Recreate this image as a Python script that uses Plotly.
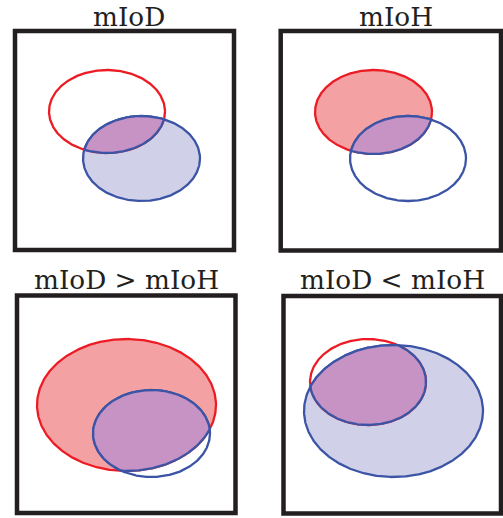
import numpy as np
import plotly.graph_objects as go

# ---- data (pixel-space geometry) ----
titles = ["mIoD", "mIoH", "mIoD > mIoH", "mIoD < mIoH"]
title_x = [129, 396, 126.5, 392]
title_y = [16.8, 16.8, 280, 280]

# panel frames: x0, x1, y0, y1
frame_x0 = [15, 280.7, 17, 283.5]
frame_x1 = [234, 501, 235.5, 501]
frame_y0 = [31, 31, 295.5, 296]
frame_y1 = [250, 250.5, 513, 513.5]

# red ellipse (centre, radii) per panel
red_cx = [107, 373.5, 126.5, 368]
red_cy = [111.5, 112, 405, 382]
red_rx = [58, 58.5, 89.5, 58]
red_ry = [41.5, 42, 66, 43]
red_filled = [False, True, True, False]

# blue ellipse per panel
blue_cx = [141.5, 408, 151.5, 393.5]
blue_cy = [158.5, 158.5, 433.5, 411]
blue_rx = [58.5, 58, 58.5, 89.5]
blue_ry = [42.5, 42.5, 43.5, 66]
blue_filled = [True, False, False, True]

RED_LINE = "#ec1c24"
RED_FILL = "#f4a1a3"
BLUE_LINE = "#3b54a5"
BLUE_FILL = "#d0d0e8"
PURPLE = "#c792c4"
FRAME = "#231f20"

W, H = 503, 518

t = np.linspace(0, 2 * np.pi, 721)


def ellipse(cx, cy, rx, ry):
    return cx + rx * np.cos(t), cy + ry * np.sin(t)


def inside(x, y, cx, cy, rx, ry):
    return ((x - cx) / rx) ** 2 + ((y - cy) / ry) ** 2 <= 1.0


fig = go.Figure()

for i in range(4):
    rx_, ry_ = ellipse(red_cx[i], red_cy[i], red_rx[i], red_ry[i])
    bx_, by_ = ellipse(blue_cx[i], blue_cy[i], blue_rx[i], blue_ry[i])

    if red_filled[i]:
        fig.add_trace(go.Scatter(x=rx_, y=ry_, mode="lines", fill="toself",
                                 fillcolor=RED_FILL, line=dict(width=0),
                                 hoverinfo="skip"))
    if blue_filled[i]:
        fig.add_trace(go.Scatter(x=bx_, y=by_, mode="lines", fill="toself",
                                 fillcolor=BLUE_FILL, line=dict(width=0),
                                 hoverinfo="skip"))
    fig.add_trace(go.Scatter(x=rx_, y=ry_, mode="lines",
                             line=dict(color=RED_LINE, width=2.3),
                             hoverinfo="skip"))
    fig.add_trace(go.Scatter(x=bx_, y=by_, mode="lines",
                             line=dict(color=BLUE_LINE, width=2.3),
                             hoverinfo="skip"))

    # intersection region
    ma = inside(rx_, ry_, blue_cx[i], blue_cy[i], blue_rx[i], blue_ry[i])
    mb = inside(bx_, by_, red_cx[i], red_cy[i], red_rx[i], red_ry[i])
    px = np.concatenate([rx_[ma], bx_[mb]])
    py = np.concatenate([ry_[ma], by_[mb]])
    mx, my = px.mean(), py.mean()
    order = np.argsort(np.arctan2(py - my, px - mx))
    px = np.append(px[order], px[order][0])
    py = np.append(py[order], py[order][0])
    fig.add_trace(go.Scatter(x=px, y=py, mode="lines", fill="toself",
                             fillcolor=PURPLE,
                             line=dict(color=BLUE_LINE, width=2.3),
                             hoverinfo="skip"))

shapes = []
for i in range(4):
    shapes.append(dict(type="rect", xref="x", yref="y",
                       x0=frame_x0[i], x1=frame_x1[i],
                       y0=frame_y0[i], y1=frame_y1[i],
                       line=dict(color=FRAME, width=4.5),
                       fillcolor="rgba(0,0,0,0)", layer="below"))

annotations = []
for i in range(4):
    annotations.append(dict(x=title_x[i], y=title_y[i], xref="x", yref="y",
                            text=titles[i], showarrow=False,
                            xanchor="center", yanchor="middle",
                            borderpad=0, borderwidth=0,
                            font=dict(family="DejaVu Serif", size=26.3,
                                      color="#231f20")))

fig.update_layout(
    width=W, height=H,
    margin=dict(l=0, r=0, t=0, b=0),
    paper_bgcolor="white", plot_bgcolor="white",
    showlegend=False,
    shapes=shapes, annotations=annotations,
    xaxis=dict(range=[0, W], visible=False, fixedrange=True),
    yaxis=dict(range=[H, 0], visible=False, fixedrange=True),
)

page_fix = (
    "document.body.style.margin='0';"
    "document.body.style.padding='0';"
    "document.body.style.overflow='hidden';"
    "document.documentElement.style.overflow='hidden';"
)

fig.write_html("out.html", config={"displayModeBar": False},
               post_script=page_fix)
